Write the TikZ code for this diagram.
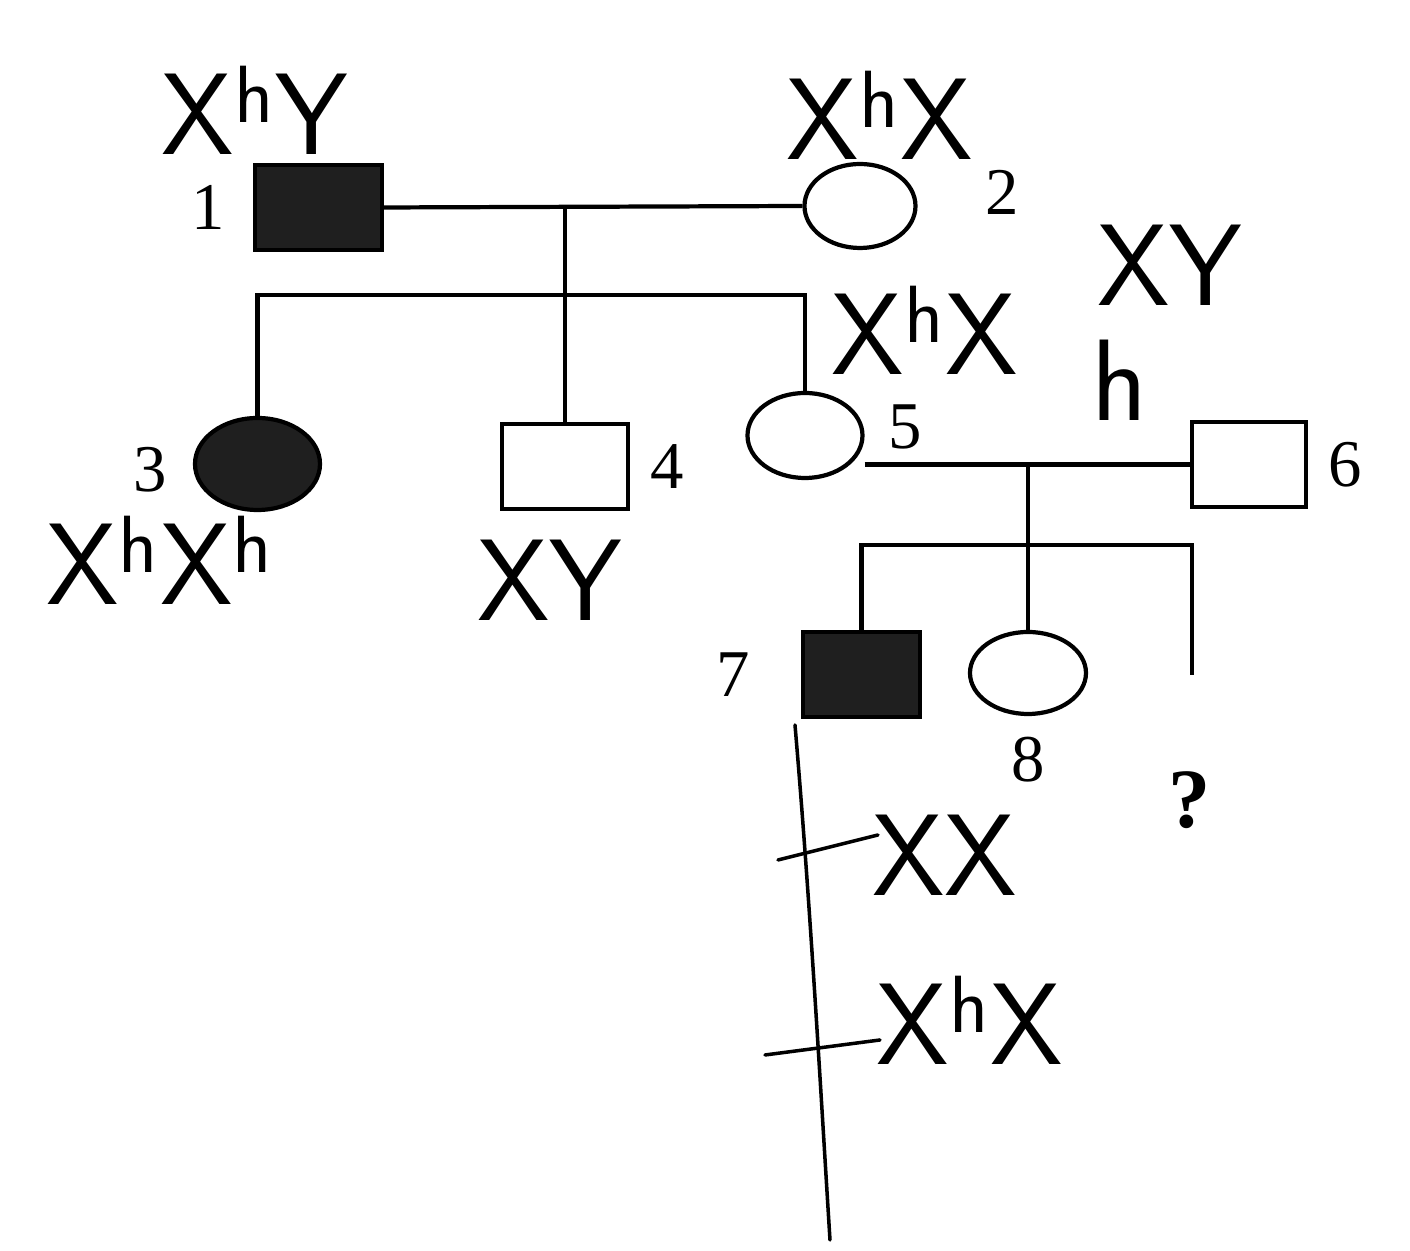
\documentclass[tikz,border=0pt]{standalone}
\usepackage{fontspec}
\setmainfont{Liberation Serif}
\usetikzlibrary{positioning,shapes.geometric}

\tikzset{
  male/.style={draw, line width=1.2pt, rectangle, minimum width=#1, minimum height=0.85cm, inner sep=0pt},
  female/.style={draw, line width=1.2pt, ellipse, inner sep=0pt},
  affected/.style={fill=black!88},
  link/.style={line width=1.2pt},
  num/.style={font=\fontsize{19}{20}\selectfont, inner sep=0pt},
  hand/.style={font=\sffamily\fontsize{33}{35}\selectfont, inner sep=0pt},
  stroke/.style={line width=1pt, line cap=round}
}

\begin{document}
\begin{tikzpicture}[x=1cm, y=-1cm]
  \useasboundingbox (0,0) rectangle (14.1,12.51);

  % generation I
  \node[male=1.27cm, affected] (m1) at (3.185, 2.075) {};
  \node[female, minimum width=1.11cm, minimum height=0.84cm] (f2) at (8.6, 2.06) {};
  \node[num, left=0.27cm of m1] (n1) {1};
  \node[num] (n2) at (10.02, 1.92) {2};

  % generation II
  \node[female, affected, minimum width=1.25cm, minimum height=0.92cm] (f3) at (2.575, 4.64) {};
  \node[male=1.26cm] (m4) at (5.65, 4.665) {};
  \node[female, minimum width=1.15cm, minimum height=0.85cm] (f5) at (8.05, 4.355) {};
  \node[male=1.14cm] (m6) at (12.49, 4.645) {};
  \node[num] (n3) at (1.5, 4.7) {3};
  \node[num, right=0.2cm of m4] (n4) {4};
  \node[num] (n5) at (9.05, 4.27) {5};
  \node[num, right=0.2cm of m6] (n6) {6};

  % generation III
  \node[male=1.17cm, affected] (m7) at (8.615, 6.745) {};
  \node[female, minimum width=1.16cm, minimum height=0.82cm] (f8) at (10.28, 6.73) {};
  \coordinate (q9) at (11.92, 6.75);
  \node[num, left=0.5cm of m7] (n7) {7};
  \node[num, below=0.2cm of f8] (n8) {8};
  \node[num, font=\bfseries\fontsize{24}{26}\selectfont] (qm) at (11.9, 8.0) {?};

  % matings and sibships
  \draw[link] (m1.east) -- (f2.west);
  \coordinate (c12) at (5.65, 2.07);
  \coordinate (s12) at (5.65, 2.95);
  \draw[link] (c12) -- (m4.north);
  \draw[link] (f3.north) -- (f3.north |- s12) -- (f5.north |- s12) -- (f5.north);

  \draw[link] (f5.east |- m6.west) -- (m6.west);
  \coordinate (c56) at (10.28, 4.645);
  \coordinate (s56) at (10.28, 5.45);
  \draw[link] (c56) -- (f8.north);
  \draw[link] (m7.north) -- (m7.north |- s56) -- (q9 |- s56) -- (q9);

  % handwritten genotypes
  \node[hand] (g1) at (2.55, 1.1) {X\textsuperscript{h}Y};
  \node[hand] (g2) at (8.8, 1.15) {X\textsuperscript{h}X};
  \node[hand] (g5) at (9.25, 3.3) {X\textsuperscript{h}X};
  \node[hand] (g6) at (11.7, 2.65) {XY};
  \node[hand] (g6h) at (11.2, 3.8) {h};
  \node[hand] (g3) at (1.6, 5.6) {X\textsuperscript{h}X\textsuperscript{h}};
  \node[hand] (g4) at (5.5, 5.8) {XY};
  \node[hand] (g7a) at (9.45, 8.55) {XX};
  \node[hand] (g7b) at (9.7, 10.2) {X\textsuperscript{h}X};
  \draw[stroke] (7.95, 7.25) .. controls (8.1, 9.0) and (8.2, 10.8) .. (8.3, 12.4);
  \draw[stroke] (7.78, 8.6) -- (8.78, 8.35);
  \draw[stroke] (7.65, 10.55) -- (8.8, 10.4);
\end{tikzpicture}
\end{document}
